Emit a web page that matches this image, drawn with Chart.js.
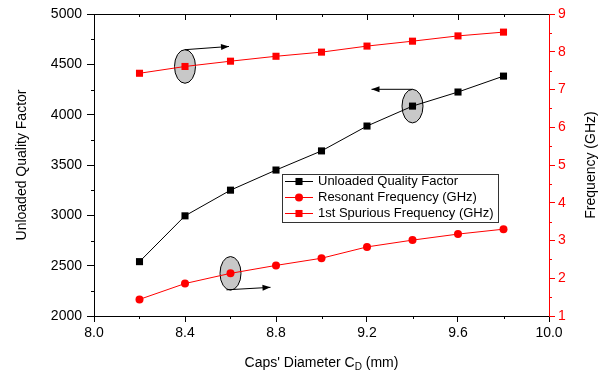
<!DOCTYPE html>
<html><head><meta charset="utf-8">
<script src="https://cdn.jsdelivr.net/npm/chart.js@4/dist/chart.umd.min.js"></script>
<style>html,body{margin:0;padding:0;background:#fff}#wrap{width:610px;height:374px;position:relative}</style>
</head><body><div id="wrap"><canvas id="c"></canvas></div>
<script>
const capsDiameter = [8.2, 8.4, 8.6, 8.8, 9.0, 9.2, 9.4, 9.6, 9.8];
const qualityFactor = [2540, 2995, 3250, 3450, 3640, 3887, 4085, 4225, 4383];
const resonantFreq = [1.44, 1.86, 2.13, 2.34, 2.53, 2.83, 3.01, 3.17, 3.30];
const spuriousFreq = [7.43, 7.61, 7.75, 7.88, 7.99, 8.15, 8.28, 8.42, 8.52];
const seriesLabels = ['Unloaded Quality Factor', 'Resonant Frequency (GHz)', '1st Spurious Frequency (GHz)'];
const xRange = [8.0, 10.0];
const qRange = [2000, 5000];
const fRange = [1, 9];
const xTitleMain = "Caps' Diameter C";
const xTitleSub = 'D';
const xTitleTail = ' (mm)';
const rightTitle = 'Frequency (GHz)';

const FONT = '"Liberation Sans", Arial, sans-serif';
Chart.defaults.font.family = FONT;

function pts(ys){ return capsDiameter.map((x,i)=>({x:x,y:ys[i]})); }

const decorPlugin = {
  id:'decor',
  beforeDatasetsDraw(chart){
    const ctx = chart.ctx, x = chart.scales.x, y = chart.scales.y, y2 = chart.scales.y2;
    const ells = [
      [x.getPixelForValue(capsDiameter[1]), y2.getPixelForValue(spuriousFreq[1])],
      [x.getPixelForValue(capsDiameter[6]), y.getPixelForValue(qualityFactor[6])],
      [x.getPixelForValue(capsDiameter[2]), y2.getPixelForValue(resonantFreq[2])]
    ];
    ctx.save();
    ctx.fillStyle = '#c8c8c8'; ctx.strokeStyle = '#000'; ctx.lineWidth = 1;
    ells.forEach(([cx,cy])=>{
      ctx.beginPath(); ctx.ellipse(cx, cy, 10.5, 16.8, 0, 0, Math.PI*2); ctx.fill(); ctx.stroke();
    });
    function arrow(x1,y1,x2,y2p){
      ctx.beginPath(); ctx.moveTo(x1,y1); ctx.lineTo(x2,y2p); ctx.stroke();
      const a = Math.atan2(y2p-y1, x2-x1), L=8, W=3;
      ctx.beginPath();
      ctx.moveTo(x2,y2p);
      ctx.lineTo(x2 - L*Math.cos(a) + W*Math.sin(a), y2p - L*Math.sin(a) - W*Math.cos(a));
      ctx.lineTo(x2 - L*Math.cos(a) - W*Math.sin(a), y2p - L*Math.sin(a) + W*Math.cos(a));
      ctx.closePath(); ctx.fillStyle='#000'; ctx.fill();
    }
    ctx.strokeStyle='#000';
    const [e1,e2,e3] = ells;
    arrow(e1[0], e1[1]-16.8, e1[0]+44, e1[1]-20);
    arrow(e2[0], e2[1]-16.8, e2[0]-41, e2[1]-16.8);
    arrow(e3[0]-4, e3[1]+16.5, e3[0]+40, e3[1]+14);
    ctx.restore();
  },
  afterDraw(chart){
    const ctx = chart.ctx, ca = chart.chartArea, x = chart.scales.x, y = chart.scales.y, y2 = chart.scales.y2;
    ctx.save();
    ctx.lineWidth = 1;
    ctx.strokeStyle = '#000';
    ctx.beginPath(); ctx.moveTo(ca.left, ca.top+0.5); ctx.lineTo(ca.right, ca.top+0.5); ctx.stroke();
    for (let k=1;k<10;k++){
      const v = xRange[0] + k*0.2;
      const px = Math.round(x.getPixelForValue(v))+0.5;
      const major = (k%2===0);
      ctx.beginPath(); ctx.moveTo(px, ca.top); ctx.lineTo(px, ca.top + (major?6:3)); ctx.stroke();
      if(!major){ ctx.beginPath(); ctx.moveTo(px, ca.bottom); ctx.lineTo(px, ca.bottom+3); ctx.stroke(); }
    }
    for (let v=qRange[0]+250; v<qRange[1]; v+=500){
      const py = Math.round(y.getPixelForValue(v))+0.5;
      ctx.beginPath(); ctx.moveTo(ca.left-3, py); ctx.lineTo(ca.left, py); ctx.stroke();
    }
    ctx.strokeStyle = 'red';
    for (let v=fRange[0]+0.5; v<fRange[1]; v+=1){
      const py = Math.round(y2.getPixelForValue(v))+0.5;
      ctx.beginPath(); ctx.moveTo(ca.right, py); ctx.lineTo(ca.right+3, py); ctx.stroke();
    }
    // x title with subscript
    ctx.fillStyle = '#000';
    ctx.textBaseline = 'middle';
    const f1 = '14px '+FONT, f2 = '10px '+FONT;
    ctx.font = f1; const w1 = ctx.measureText(xTitleMain).width, w3 = ctx.measureText(xTitleTail).width;
    ctx.font = f2; const w2 = ctx.measureText(xTitleSub).width;
    let tx = (ca.left+ca.right)/2 - (w1+w2+w3)/2; const ty = 363;
    ctx.textAlign='left';
    ctx.font = f1; ctx.fillText(xTitleMain, tx, ty); tx += w1;
    ctx.font = f2; ctx.fillText(xTitleSub, tx, ty+4); tx += w2;
    ctx.font = f1; ctx.fillText(xTitleTail, tx, ty);
    // right title, reading upward
    ctx.save();
    ctx.translate(591, (ca.top+ca.bottom)/2);
    ctx.rotate(-Math.PI/2);
    ctx.textAlign='center'; ctx.textBaseline='middle'; ctx.font=f1; ctx.fillStyle='#000';
    ctx.fillText(rightTitle, 0, 0);
    ctx.restore();
    // legend
    const bx=282.5, by=174.5, bw=216, bh=48;
    ctx.fillStyle='#fff'; ctx.fillRect(bx,by,bw,bh);
    ctx.strokeStyle='#333'; ctx.strokeRect(bx,by,bw,bh);
    const rows=[181,197,213];
    chart.data.datasets.forEach((ds,i)=>{
      const ry = rows[i]+0.5;
      ctx.strokeStyle = ds.borderColor; ctx.lineWidth=1;
      ctx.beginPath(); ctx.moveTo(285, ry); ctx.lineTo(313, ry); ctx.stroke();
      ctx.fillStyle = ds.pointBackgroundColor;
      ctx.beginPath();
      if (ds.pointStyle==='circle'){ ctx.arc(299, ry, ds.pointRadius, 0, Math.PI*2); }
      else { const s = ds.pointRadius*Math.SQRT1_2; ctx.rect(299-s, ry-s, 2*s, 2*s); }
      ctx.fill();
      ctx.fillStyle='#000'; ctx.font='13px '+FONT; ctx.textAlign='left'; ctx.textBaseline='middle';
      ctx.fillText(ds.label, 318, ry);
    });
    ctx.restore();
  }
};

new Chart(document.getElementById('c'), {
  type:'line',
  data:{ datasets:[
    {label:seriesLabels[0], data:pts(qualityFactor), yAxisID:'y', borderColor:'#000', backgroundColor:'#000',
     pointBackgroundColor:'#000', pointBorderColor:'#000', pointStyle:'rect', pointRadius:5, borderWidth:1, pointBorderWidth:0},
    {label:seriesLabels[1], data:pts(resonantFreq), yAxisID:'y2', borderColor:'red', backgroundColor:'red',
     pointBackgroundColor:'red', pointBorderColor:'red', pointStyle:'circle', pointRadius:4, borderWidth:1, pointBorderWidth:0},
    {label:seriesLabels[2], data:pts(spuriousFreq), yAxisID:'y2', borderColor:'red', backgroundColor:'red',
     pointBackgroundColor:'red', pointBorderColor:'red', pointStyle:'rect', pointRadius:5, borderWidth:1, pointBorderWidth:0}
  ]},
  options:{
    responsive:true, maintainAspectRatio:false, animation:false,
    layout:{padding:{top:14, left:0, right:0, bottom:0}},
    plugins:{legend:{display:false}, tooltip:{enabled:false}},
    scales:{
      x:{type:'linear', min:xRange[0], max:xRange[1],
        ticks:{stepSize:0.4, color:'#000', font:{size:14}, padding:3, maxRotation:0, callback:v=>Number(v).toFixed(1)},
        grid:{drawOnChartArea:false, tickLength:6, color:'#000'},
        border:{color:'#000', width:1},
        title:{display:false},
        afterFit(s){ s.height = 58; }
      },
      y:{type:'linear', position:'left', min:qRange[0], max:qRange[1],
        ticks:{stepSize:500, color:'#000', font:{size:14}, padding:5, callback:v=>String(v)},
        grid:{drawOnChartArea:false, tickLength:7, color:'#000'},
        border:{color:'#000', width:1},
        title:{display:true, text:'Unloaded Quality Factor', color:'#000', font:{size:14}, padding:{top:14, bottom:0}},
        afterFit(s){ s.width = 94; }
      },
      y2:{type:'linear', position:'right', min:fRange[0], max:fRange[1],
        ticks:{stepSize:1, color:'red', font:{size:14}, padding:3, callback:v=>String(v)},
        grid:{drawOnChartArea:false, tickLength:6, color:'red'},
        border:{color:'red', width:1},
        title:{display:false},
        afterFit(s){ s.width = 61; }
      }
    }
  },
  plugins:[decorPlugin]
});
</script></body></html>
